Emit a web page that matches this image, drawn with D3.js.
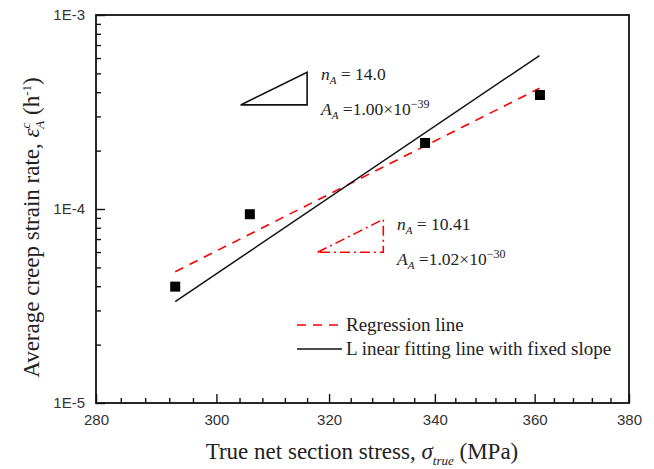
<!DOCTYPE html>
<html>
<head>
<meta charset="utf-8">
<script src="https://cdn.jsdelivr.net/npm/d3@7"></script>
<style>
  html, body { margin: 0; padding: 0; background: #fff; }
  svg { display: block; }
  .tick text { font-family: "Liberation Sans", Arial, sans-serif; font-size: 15px; fill: #333; }
  .serif { font-family: "Liberation Serif", "Times New Roman", serif; fill: #222; }
</style>
</head>
<body>
<svg id="chart" width="654" height="469"></svg>
<script>
// ---- data ----
const stress = [293, 305.8, 338.1, 361.1];            // MPa
const strainRate = [3.98e-5, 9.4e-5, 2.19e-4, 3.87e-4]; // 1/h
const lineStress = [293, 361];
const regressionRate = [4.75e-5, 4.19e-4];
const fixedSlopeRate = [3.33e-5, 6.18e-4];
const xMajorTicks = [280, 300, 320, 340, 360, 380];
const xMinorTicks = [284, 288, 292, 296, 304, 308, 312, 316, 324, 328, 332, 336, 344, 348, 352, 356, 364, 368, 372, 376];
const yMajorTicks = [1e-5, 1e-4, 1e-3];
const yMajorLabels = ["1E-5", "1E-4", "1E-3"];
const yMinorTicks = [2e-5, 3e-5, 4e-5, 5e-5, 6e-5, 7e-5, 8e-5, 9e-5, 2e-4, 3e-4, 4e-4, 5e-4, 6e-4, 7e-4, 8e-4, 9e-4];
// slope triangles (data coords): [x0, x1], [yLow, yHigh]
const triFixedX = [304.2, 316.0];
const triFixedY = [3.44e-4, 5.07e-4];
const triRegX = [317.9, 330.1];
const triRegY = [5.98e-5, 8.85e-5];
const legendLabels = ["Regression line", "L inear fitting line with fixed slope"];

// ---- layout ----
const svg = d3.select("#chart");
const L = 96, R = 629, T = 15, B = 403;
const x = d3.scaleLog().domain([280, 380]).range([L, R]);
const y = d3.scaleLog().domain([1e-5, 1e-3]).range([B, T]);

// axes
const gx = svg.append("g").attr("transform", `translate(0,${B})`)
  .call(d3.axisBottom(x).tickValues(xMajorTicks).tickFormat(d3.format("d")).tickSize(-9).tickPadding(11));
const gxm = svg.append("g").attr("transform", `translate(0,${B})`)
  .call(d3.axisBottom(x).tickValues(xMinorTicks).tickFormat("").tickSize(-5));
const gy = svg.append("g").attr("transform", `translate(${L},0)`)
  .call(d3.axisLeft(y).tickValues(yMajorTicks).tickFormat((d, i) => yMajorLabels[i]).tickSize(-9).tickPadding(11));
const gym = svg.append("g").attr("transform", `translate(${L},0)`)
  .call(d3.axisLeft(y).tickValues(yMinorTicks).tickFormat("").tickSize(-5));
[gx, gxm, gy, gym].forEach(g => {
  g.select(".domain").remove();
  g.selectAll(".tick line").attr("stroke", "#111").attr("stroke-width", 1.4);
});

// frame
svg.append("rect").attr("x", L).attr("y", T).attr("width", R - L).attr("height", B - T)
  .attr("fill", "none").attr("stroke", "#111").attr("stroke-width", 1.8);

// lines
const line = d3.line().x(d => x(d[0])).y(d => y(d[1]));
svg.append("path").datum(lineStress.map((s, i) => [s, regressionRate[i]]))
  .attr("d", line).attr("fill", "none").attr("stroke", "#ff0000").attr("stroke-width", 1.6)
  .attr("stroke-dasharray", "9,7");
svg.append("path").datum(lineStress.map((s, i) => [s, fixedSlopeRate[i]]))
  .attr("d", line).attr("fill", "none").attr("stroke", "#111").attr("stroke-width", 1.5);

// points
const sq = 10;
svg.selectAll("rect.pt").data(stress).join("rect").attr("class", "pt")
  .attr("x", d => x(d) - sq / 2).attr("y", (d, i) => y(strainRate[i]) - sq / 2)
  .attr("width", sq).attr("height", sq).attr("fill", "#000");

// triangles
function tri(xs, ys) {
  return `M${x(xs[0])},${y(ys[0])}L${x(xs[1])},${y(ys[1])}L${x(xs[1])},${y(ys[0])}Z`;
}
svg.append("path").attr("d", tri(triFixedX, triFixedY)).attr("fill", "none")
  .attr("stroke", "#111").attr("stroke-width", 1.6);
svg.append("path").attr("d", tri(triRegX, triRegY)).attr("fill", "none")
  .attr("stroke", "#ff0000").attr("stroke-width", 1.6).attr("stroke-dasharray", "10,4,2,4");

// annotation texts
function annot(xp, yp, letter, rest, sup) {
  const t = svg.append("text").attr("class", "serif").attr("x", xp).attr("y", yp).attr("font-size", 17.5);
  t.append("tspan").attr("font-style", "italic").text(letter);
  t.append("tspan").attr("font-style", "italic").attr("font-size", 11).attr("dy", 4).text("A");
  t.append("tspan").attr("dy", -4).text(rest);
  if (sup) t.append("tspan").attr("font-size", 12).attr("dy", -7).text(sup);
}
annot(321, 80, "n", " = 14.0");
annot(321, 115, "A", " =1.00×10", "−39");
annot(397, 230, "n", " = 10.41");
annot(397, 265, "A", " =1.02×10", "−30");

// legend
const legY = [325, 349];
svg.append("line").attr("x1", 297).attr("x2", 342).attr("y1", legY[0]).attr("y2", legY[0])
  .attr("stroke", "#ff0000").attr("stroke-width", 1.6).attr("stroke-dasharray", "9,7");
svg.append("line").attr("x1", 297).attr("x2", 342).attr("y1", legY[1]).attr("y2", legY[1])
  .attr("stroke", "#111").attr("stroke-width", 1.6);
legendLabels.forEach((lbl, i) => {
  svg.append("text").attr("class", "serif").attr("x", 346).attr("y", legY[i] + 6)
    .attr("font-size", 19).text(lbl);
});

// x axis title
const xt = svg.append("text").attr("class", "serif").attr("x", 362).attr("y", 459)
  .attr("text-anchor", "middle").attr("font-size", 23);
xt.append("tspan").text("True net section stress, ");
xt.append("tspan").attr("font-style", "italic").text("σ");
xt.append("tspan").attr("font-style", "italic").attr("font-size", 13).attr("dy", 6).text("true");
xt.append("tspan").attr("dy", -6).text(" (MPa)");

// y axis title
const yt = svg.append("text").attr("class", "serif")
  .attr("transform", `translate(39,${(77 + 378) / 2}) rotate(-90)`)
  .attr("text-anchor", "middle").attr("font-size", 23);
yt.append("tspan").text("Average creep strain rate, ");
yt.append("tspan").attr("font-style", "italic").text("ε");
yt.append("tspan").attr("font-style", "italic").attr("font-size", 13).attr("dy", -9).text("c");
yt.append("tspan").attr("font-style", "italic").attr("font-size", 13).attr("dx", -6).attr("dy", 14).text("A");
yt.append("tspan").attr("dy", -5).text(" (h");
yt.append("tspan").attr("font-size", 13).attr("dy", -8).text("-1");
yt.append("tspan").attr("dy", 8).text(")");
</script>
</body>
</html>
